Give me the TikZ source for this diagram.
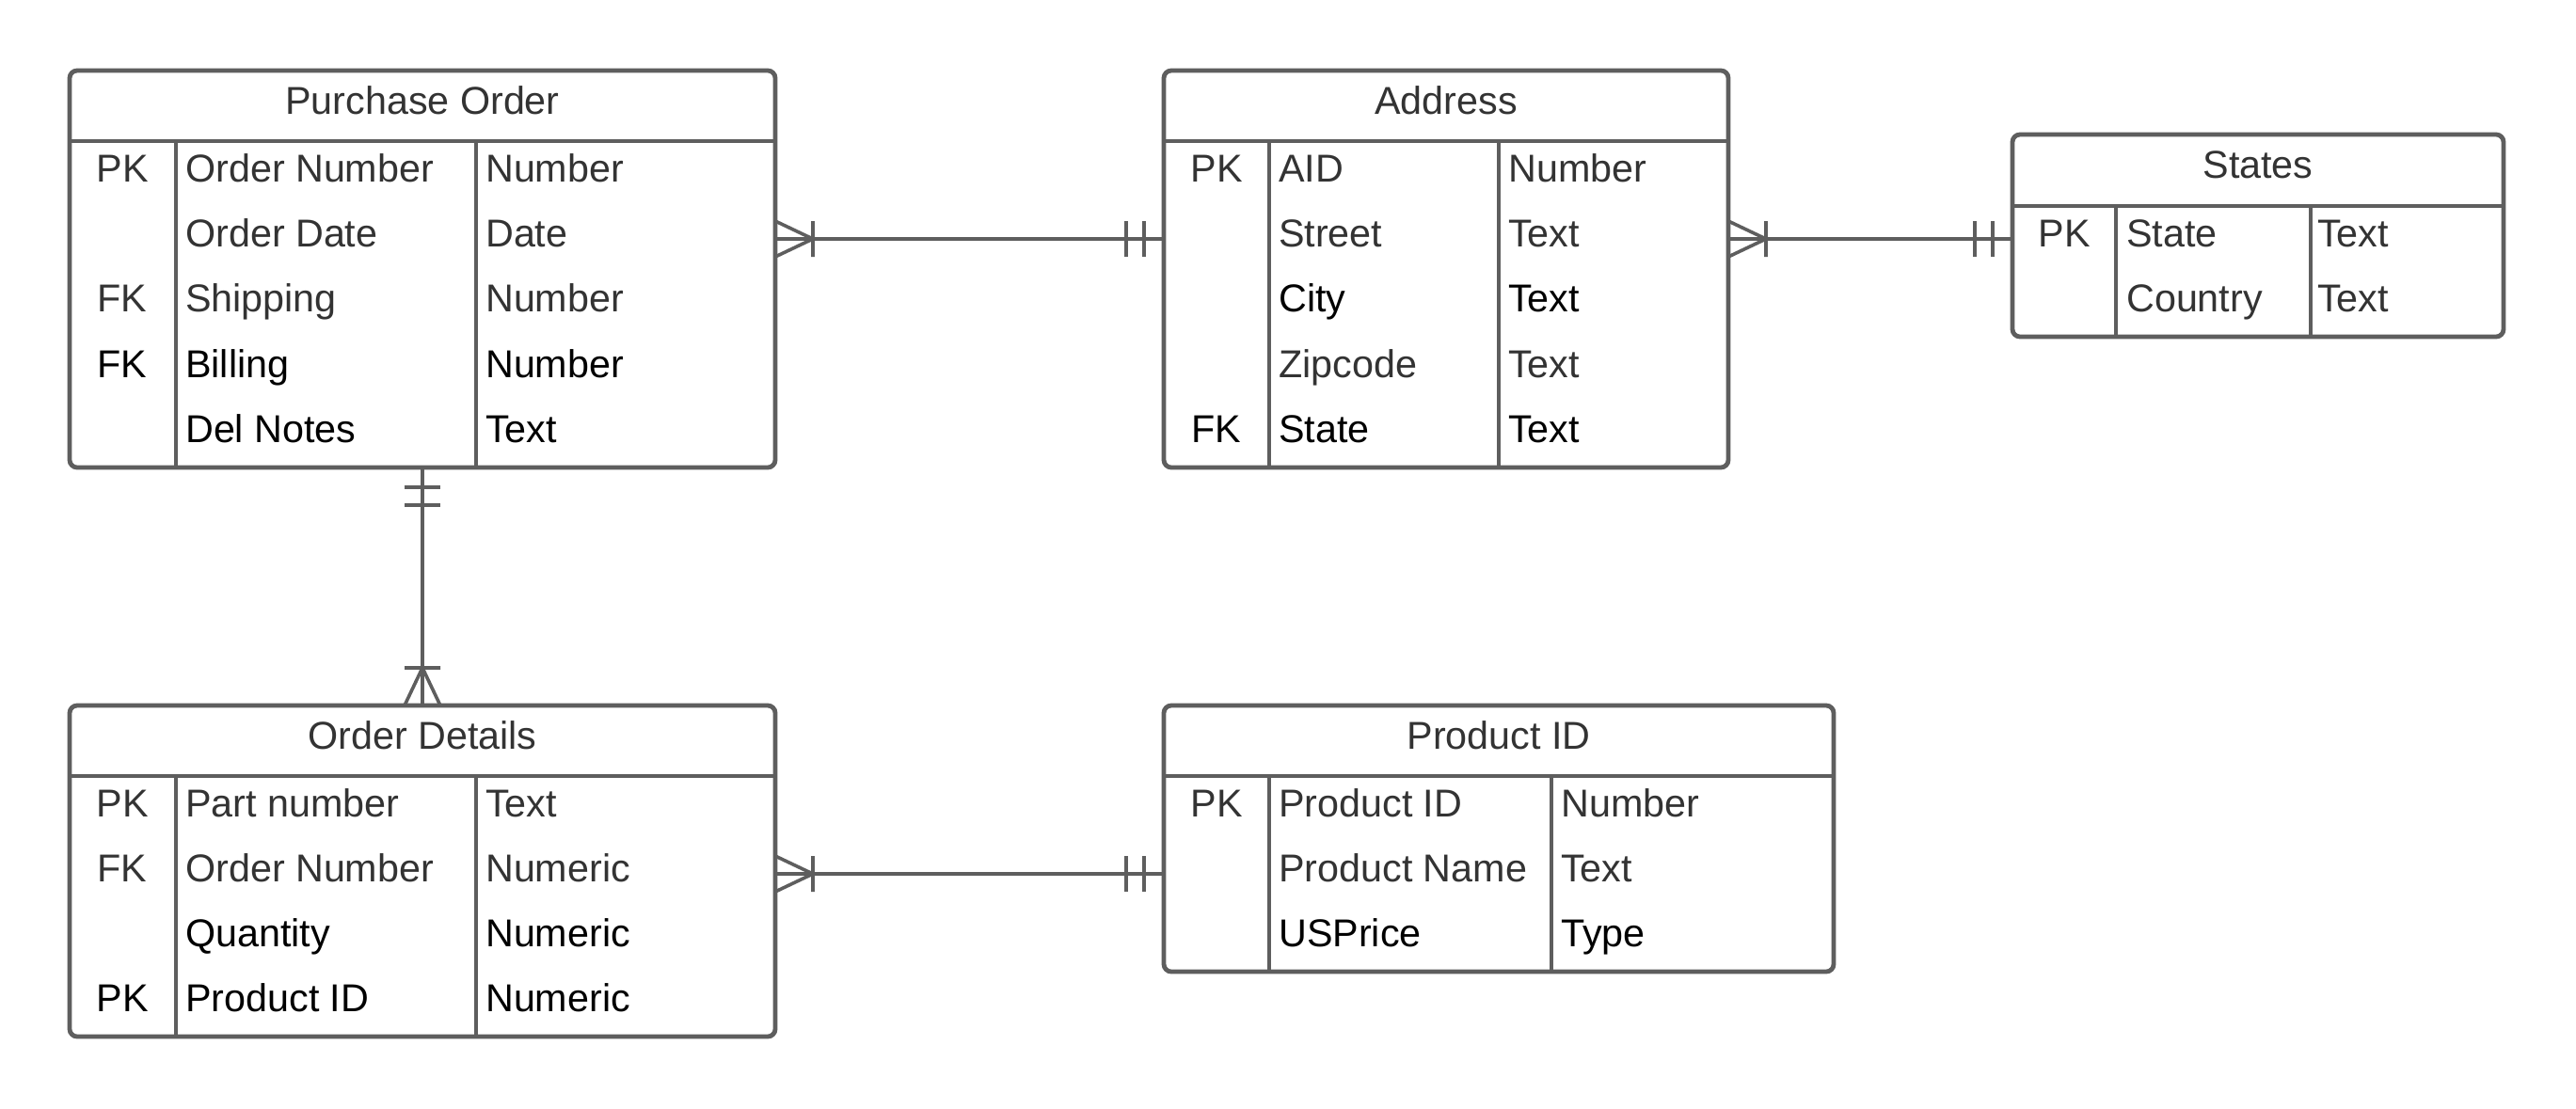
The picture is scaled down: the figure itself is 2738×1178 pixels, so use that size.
\documentclass[tikz,border=0pt]{standalone}
\usepackage{fontspec}
\setmainfont{Liberation Sans}
\usetikzlibrary{calc}
\definecolor{ln}{HTML}{5E5E5E}
\definecolor{tx}{HTML}{333333}
\begin{document}
\begin{tikzpicture}[x=1pt,y=-1pt,
  tabbox/.style={draw=ln, line width=4.8pt, rounded corners=8pt, inner sep=0pt, outer sep=0pt, anchor=north west},
  grid/.style={draw=ln, line width=4.8pt},
  link/.style={draw=ln, line width=3.6pt},
  txt/.style={font=\fontsize{41.3}{49}\selectfont, text=tx, inner sep=0pt},
  ttl/.style={txt, anchor=base},
  ky/.style={txt, anchor=base},
  nm/.style={txt, anchor=base west},
  dk/.style={text=black},
  crow/.pic={\draw[link] (0,-19) -- (40,0) -- (0,19) (40,-19) -- (40,19);},
  onebar/.pic={\draw[link] (-21,-19) -- (-21,19) (-40,-19) -- (-40,19);}]
\useasboundingbox (0,0) rectangle (2738,1178);
\fill[white] (0,0) rectangle (2738,1178);

% ---------- Purchase Order ----------
\node[tabbox, minimum width=750pt, minimum height=422pt] (po) at (74,75) {};
\draw[grid] (74,150) -- (824,150);
\draw[grid] (187,150) -- (187,497);
\draw[grid] (506,150) -- (506,497);
\node[ttl] (po-t) at (449,121) {Purchase Order};
\node[ky] (po-k1) at (130,193) {PK};
\node[nm] (po-n1) at (197,193) {Order Number};
\node[nm] (po-y1) at (516,193) {Number};
\node[nm] (po-n2) at (197,262.4) {Order Date};
\node[nm] (po-y2) at (516,262.4) {Date};
\node[ky] (po-k3) at (130,331.8) {FK};
\node[nm] (po-n3) at (197,331.8) {Shipping};
\node[nm] (po-y3) at (516,331.8) {Number};
\node[ky,dk] (po-k4) at (130,401.2) {FK};
\node[nm,dk] (po-n4) at (197,401.2) {Billing};
\node[nm,dk] (po-y4) at (516,401.2) {Number};
\node[nm,dk] (po-n5) at (197,470.6) {Del Notes};
\node[nm,dk] (po-y5) at (516,470.6) {Text};

% ---------- Address ----------
\node[tabbox, minimum width=600pt, minimum height=422pt] (addr) at (1237,75) {};
\draw[grid] (1237,150) -- (1837,150);
\draw[grid] (1349,150) -- (1349,497);
\draw[grid] (1593,150) -- (1593,497);
\node[ttl] (ad-t) at (1537,121) {Address};
\node[ky] (ad-k1) at (1293,193) {PK};
\node[nm] (ad-n1) at (1359,193) {AID};
\node[nm] (ad-y1) at (1603,193) {Number};
\node[nm] (ad-n2) at (1359,262.4) {Street};
\node[nm] (ad-y2) at (1603,262.4) {Text};
\node[nm,dk] (ad-n3) at (1359,331.8) {City};
\node[nm,dk] (ad-y3) at (1603,331.8) {Text};
\node[nm] (ad-n4) at (1359,401.2) {Zipcode};
\node[nm] (ad-y4) at (1603,401.2) {Text};
\node[ky,dk] (ad-k5) at (1293,470.6) {FK};
\node[nm,dk] (ad-n5) at (1359,470.6) {State};
\node[nm,dk] (ad-y5) at (1603,470.6) {Text};

% ---------- States ----------
\node[tabbox, minimum width=522pt, minimum height=215pt] (st) at (2139,143) {};
\draw[grid] (2139,219) -- (2661,219);
\draw[grid] (2249,219) -- (2249,358);
\draw[grid] (2456,219) -- (2456,358);
\node[ttl] (st-t) at (2400,189) {States};
\node[ky] (st-k1) at (2194,262) {PK};
\node[nm] (st-n1) at (2260,262) {State};
\node[nm] (st-y1) at (2463,262) {Text};
\node[nm] (st-n2) at (2260,331.5) {Country};
\node[nm] (st-y2) at (2463,331.5) {Text};

% ---------- Order Details ----------
\node[tabbox, minimum width=750pt, minimum height=352pt] (od) at (74,750) {};
\draw[grid] (74,825) -- (824,825);
\draw[grid] (187,825) -- (187,1102);
\draw[grid] (506,825) -- (506,1102);
\node[ttl] (od-t) at (449,796) {Order Details};
\node[ky] (od-k1) at (130,868) {PK};
\node[nm] (od-n1) at (197,868) {Part number};
\node[nm] (od-y1) at (516,868) {Text};
\node[ky] (od-k2) at (130,937.3) {FK};
\node[nm] (od-n2) at (197,937.3) {Order Number};
\node[nm] (od-y2) at (516,937.3) {Numeric};
\node[nm,dk] (od-n3) at (197,1006.6) {Quantity};
\node[nm,dk] (od-y3) at (516,1006.6) {Numeric};
\node[ky,dk] (od-k4) at (130,1075.9) {PK};
\node[nm,dk] (od-n4) at (197,1075.9) {Product ID};
\node[nm,dk] (od-y4) at (516,1075.9) {Numeric};

% ---------- Product ID ----------
\node[tabbox, minimum width=712pt, minimum height=283pt] (pid) at (1237,750) {};
\draw[grid] (1237,825) -- (1949,825);
\draw[grid] (1349,825) -- (1349,1033);
\draw[grid] (1649,825) -- (1649,1033);
\node[ttl] (pi-t) at (1593,796) {Product ID};
\node[ky] (pi-k1) at (1293,868) {PK};
\node[nm] (pi-n1) at (1359,868) {Product ID};
\node[nm] (pi-y1) at (1659,868) {Number};
\node[nm] (pi-n2) at (1359,937.3) {Product Name};
\node[nm] (pi-y2) at (1659,937.3) {Text};
\node[nm,dk] (pi-n3) at (1359,1006.6) {USPrice};
\node[nm,dk] (pi-y3) at (1659,1006.6) {Type};

% ---------- Connectors ----------
\path (po.north east) ++(0,179) coordinate (c1s);
\path (addr.north west) ++(0,179) coordinate (c1e);
\draw[link] (c1s) -- (c1e);
\pic at (c1s) {crow};
\pic at (c1e) {onebar};

\path (addr.north east) ++(0,179) coordinate (c2s);
\path (st.north west) ++(0,111) coordinate (c2e);
\draw[link] (c2s) -- (c2e);
\pic at (c2s) {crow};
\pic at (c2e) {onebar};

\path (po.south) coordinate (c3s);
\path (od.north) coordinate (c3e);
\draw[link] (c3s) -- (c3e);
\pic[rotate=90] at (c3s) {onebar};
\pic[rotate=90] at (c3e) {crow};

\path (od.north east) ++(0,179) coordinate (c4s);
\path (pid.north west) ++(0,179) coordinate (c4e);
\draw[link] (c4s) -- (c4e);
\pic at (c4s) {crow};
\pic at (c4e) {onebar};
\end{tikzpicture}
\end{document}
